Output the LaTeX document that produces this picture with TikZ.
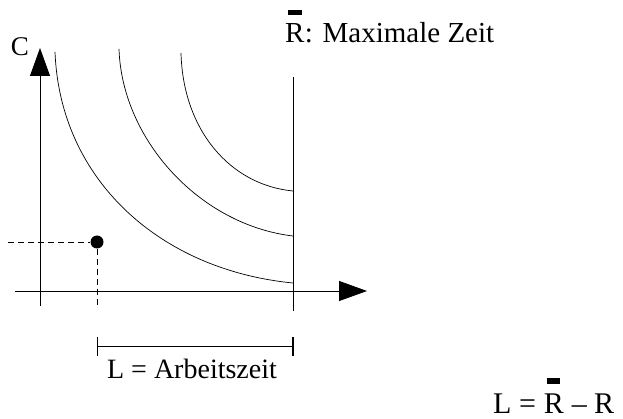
\documentclass[tikz,border=0pt]{standalone}
\usepackage{fontspec}
\setmainfont{Liberation Serif}
\usetikzlibrary{arrows.meta}
\begin{document}
\begin{tikzpicture}[x=1pt,y=-1pt,
  thin line/.style={line width=0.8pt},
  curve/.style={line width=0.7pt},
  axis/.style={line width=0.9pt,-{Triangle[length=28pt,width=20pt]}},
  guide/.style={line width=0.8pt,dash pattern=on 6pt off 4pt},
  barmark/.style={fill=black},
  lbl/.style={inner sep=0pt,anchor=base west}]
\useasboundingbox (0,0) rectangle (623,419);
% axes
\coordinate (ybot) at (40,306);
\coordinate (ytop) at (40,48);
\coordinate (xleft) at (15,291);
\coordinate (xright) at (367,291);
\draw[axis] (ybot) -- (ytop);
\draw[axis] (xleft) -- (xright);
% R-bar vertical line
\coordinate (rtop) at (293,77);
\coordinate (rbot) at (293,311);
\draw[thin line] (rtop) -- (rbot);
% curves
\coordinate (c1a) at (55,52);  \coordinate (c1b) at (293,283);
\coordinate (c2a) at (119,49); \coordinate (c2b) at (293,236);
\coordinate (c3a) at (181,53); \coordinate (c3b) at (293,191);
\draw[curve] (c1a) .. controls (60,180) and (160,270) .. (c1b);
\draw[curve] (c2a) .. controls (122,140) and (200,225) .. (c2b);
\draw[curve] (c3a) .. controls (183,130) and (230,185) .. (c3b);
% point
\node[circle,fill=black,inner sep=0pt,minimum size=13pt] (pt) at (97,242) {};
\coordinate (dl) at (8,242);
\coordinate (db) at (97,308);
\draw[guide] (dl) -- (pt.west);
\draw[guide] (pt.south) -- (db);
% labels
\node[font=\fontsize{27}{30}\selectfont,inner sep=0pt] (C) at (20,47) {C};
\node[lbl,font=\fontsize{29}{32}\selectfont] (rtopR) at (285,43) {R};
\node[lbl,font=\fontsize{29}{32}\selectfont] (rlabel) at (rtopR.base east) {: Maximale Zeit};
\fill[barmark] ([xshift=-7pt]rtopR.north |- 0,10) rectangle ([xshift=7pt]rtopR.north |- 0,15);
% bracket
\coordinate (bl) at (97,346);
\coordinate (br) at (293,346);
\draw[thin line] (bl) -- (br);
\draw[line width=0.9pt] (97,337) -- (97,356);
\draw[line width=2.5pt] (293,337) -- (293,356);
\node[font=\fontsize{28}{32}\selectfont,inner sep=0pt,anchor=base] (lab) at (192,378) {L = Arbeitszeit};
% formula
\node[lbl,font=\fontsize{30}{34}\selectfont] (formL) at (493,413) {L =\kern0.25em};
\node[lbl,font=\fontsize{30}{34}\selectfont] (formR) at (formL.base east) {R};
\node[lbl,font=\fontsize{30}{34}\selectfont] (formrest) at (formR.base east) {\kern0.25em– R};
\fill[barmark] ([xshift=-6.5pt]formR.north |- 0,378) rectangle ([xshift=6.5pt]formR.north |- 0,384);
\end{tikzpicture}
\end{document}
